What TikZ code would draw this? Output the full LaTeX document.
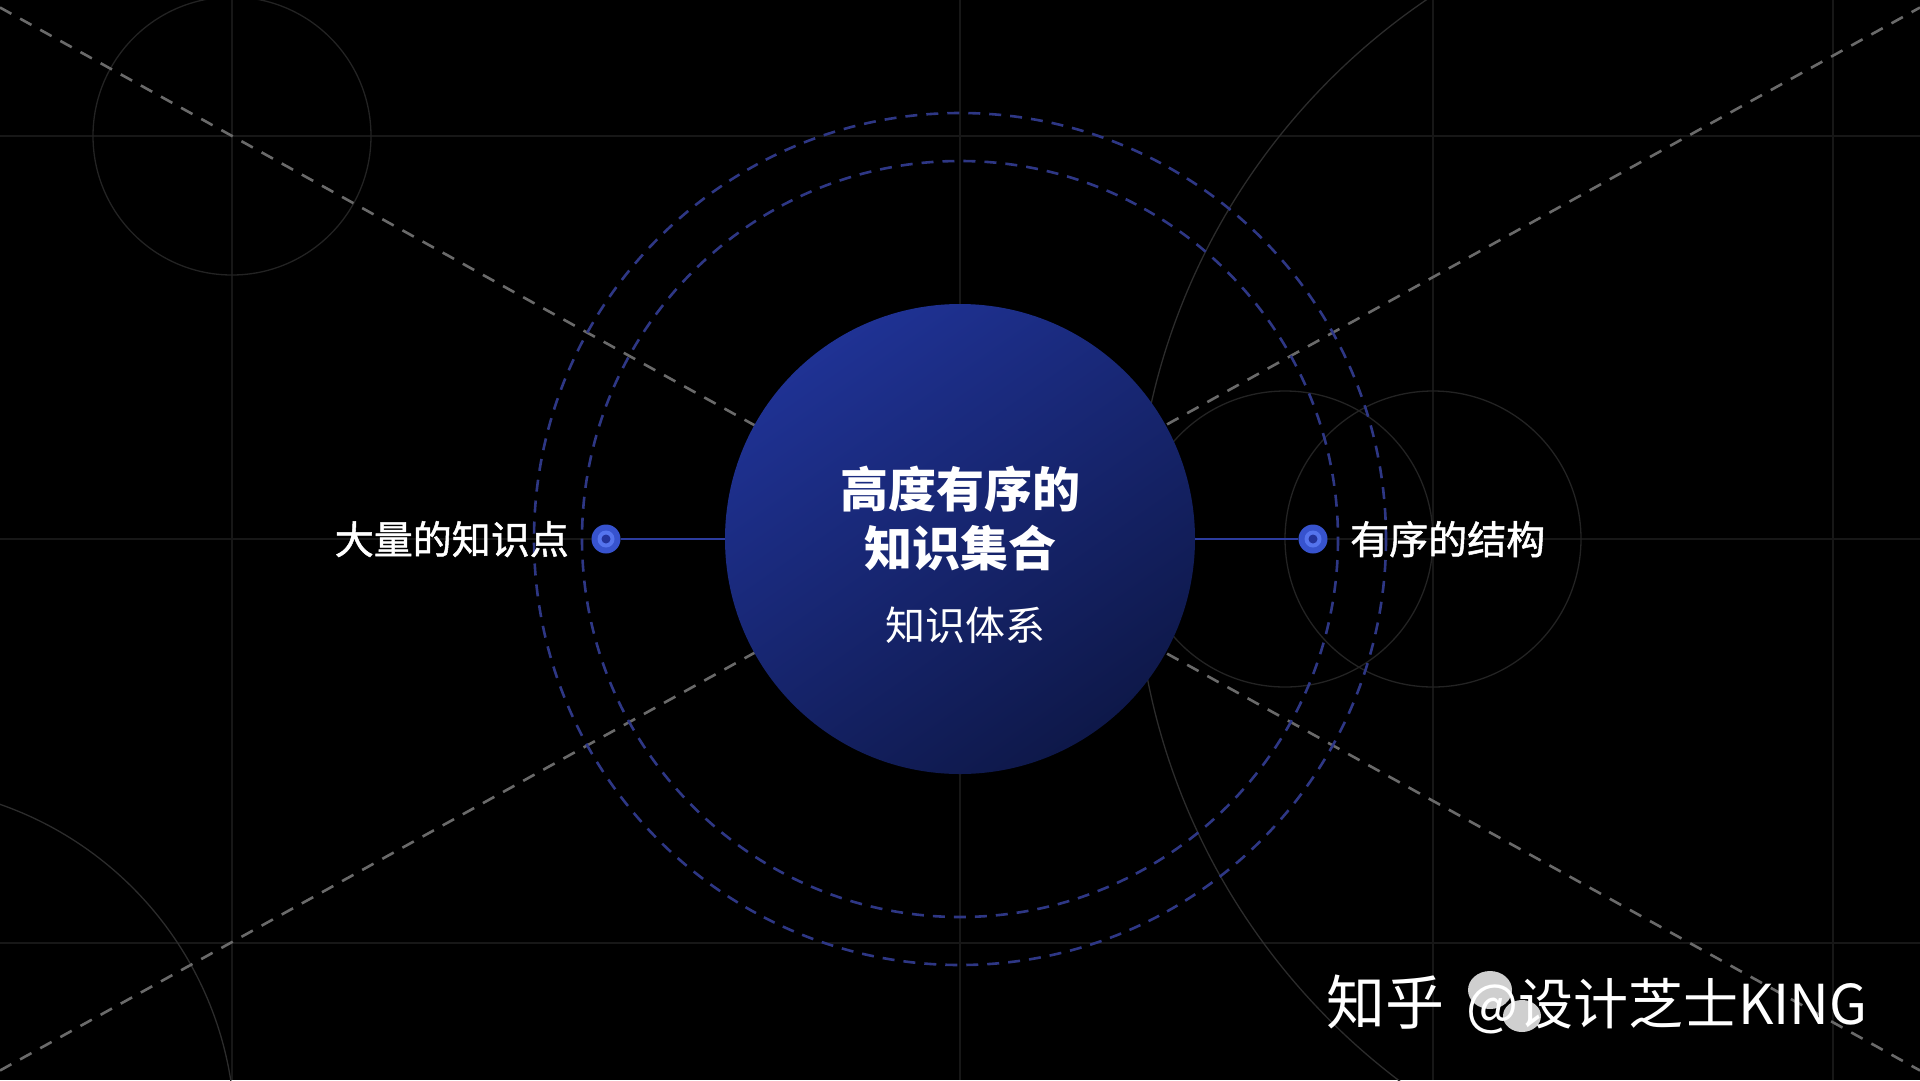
\documentclass[tikz,border=0pt]{standalone}
\usepackage{fontspec}
\newfontfamily\cjk{Noto Sans CJK SC}
\newfontfamily\cjkm{Noto Sans CJK SC}[FakeBold=1.3]
\definecolor{gridc}{HTML}{171717}
\definecolor{thinc}{HTML}{232323}
\definecolor{arcc}{HTML}{2C2C2C}
\definecolor{dashg}{HTML}{6A6A6A}
\definecolor{dashb}{HTML}{2E3785}
\definecolor{connc}{HTML}{2C3C9E}
\definecolor{dotout}{HTML}{3753CE}
\definecolor{dotmid}{HTML}{5574EE}
\definecolor{dotin}{HTML}{23339C}
\definecolor{ballhi}{HTML}{1F3294}
\definecolor{balllo}{HTML}{0E1849}
\definecolor{wmg}{HTML}{CFCFCF}
\tikzset{
  gridline/.style={draw=gridc, line width=1.5pt},
  thincirc/.style={draw=thinc, line width=1.3pt},
  bigarc/.style={draw=arcc, line width=1.3pt},
  graydash/.style={draw=dashg, line width=2.6pt, dash pattern=on 13pt off 10pt},
  bluedash/.style={draw=dashb, line width=2.6pt, dash pattern=on 12pt off 9pt},
  conn/.style={draw=connc, line width=2.6pt},
  dotnode/.style={circle, fill=dotout, minimum size=29pt, inner sep=0pt},
  label/.style={text=white, inner sep=0pt, font=\cjkm\fontsize{39pt}{39pt}\selectfont},
  title/.style={text=white, inner sep=0pt, font=\cjk\bfseries\fontsize{48pt}{48pt}\selectfont},
  subt/.style={text=white, inner sep=0pt, font=\cjk\fontsize{40pt}{40pt}\selectfont},
  wmark/.style={text=white, inner sep=0pt, font=\cjk\fontsize{55pt}{55pt}\selectfont},
}
\begin{document}
\begin{tikzpicture}[x=1pt, y=-1pt]
\fill[black] (0,0) rectangle (1920,1080);
\useasboundingbox (0,0) rectangle (1920,1080);
% grid
\foreach \y in {136,539,943} \draw[gridline] (0,\y) -- (1920,\y);
\foreach \x in {232,960,1433,1833} \draw[gridline] (\x,0) -- (\x,1080);
% thin construction circles
\draw[thincirc] (232,136) circle[radius=139];
\draw[thincirc] (1285,539) circle[radius=148];
\draw[thincirc] (1433,539) circle[radius=148];
\draw[bigarc] (1800,550) circle[radius=665];
\draw[bigarc] (-115,1135) circle[radius=350];
% diagonal dashed lines
\coordinate (d1a) at (0,7.5);
\coordinate (d1b) at (1920,1070.5);
\coordinate (d2a) at (0,1070.5);
\coordinate (d2b) at (1920,7.5);
\draw[graydash] (d1a) -- (d1b);
\draw[graydash] (d2a) -- (d2b);
% blue dashed orbits
\draw[bluedash] (960,539) circle[radius=426];
\draw[bluedash] (960,539) circle[radius=378];
% main ball
\node[circle, minimum size=470pt, inner sep=0pt, top color=ballhi, bottom color=balllo, shading angle=35] (ball) at (960,539) {};
% dots
\node[dotnode] (ldot) at (606,539) {};
\node[dotnode] (rdot) at (1313,539) {};
\draw[conn] (ball) -- (ldot);
\draw[conn] (ball) -- (rdot);
\foreach \d in {ldot,rdot} {
  \fill[dotmid] (\d.center) circle[radius=8.5];
  \fill[dotin] (\d.center) circle[radius=4.5];
}
% texts
\node[title, anchor=base] (t1) at (960,507) {高度有序的};
\node[title, anchor=base] (t2) at (960,566) {知识集合};
\node[subt, anchor=base] (sub) at (965,640) {知识体系};
\node[label, anchor=base east] (ll) at (569,554) {大量的知识点};
\node[label, anchor=base west] (rl) at (1350,554) {有序的结构};
% watermark
\fill[wmg] (1490,990) ellipse (22 and 19);
\fill[wmg] (1522,1016) ellipse (19 and 16);
\node[wmark, anchor=base west, font=\cjk\fontsize{59pt}{59pt}\selectfont] (wm1) at (1326,1024) {知乎};
\node[wmark, anchor=base west] (wm2) at (1466,1024) {@设计芝士KING};
\end{tikzpicture}
\end{document}
